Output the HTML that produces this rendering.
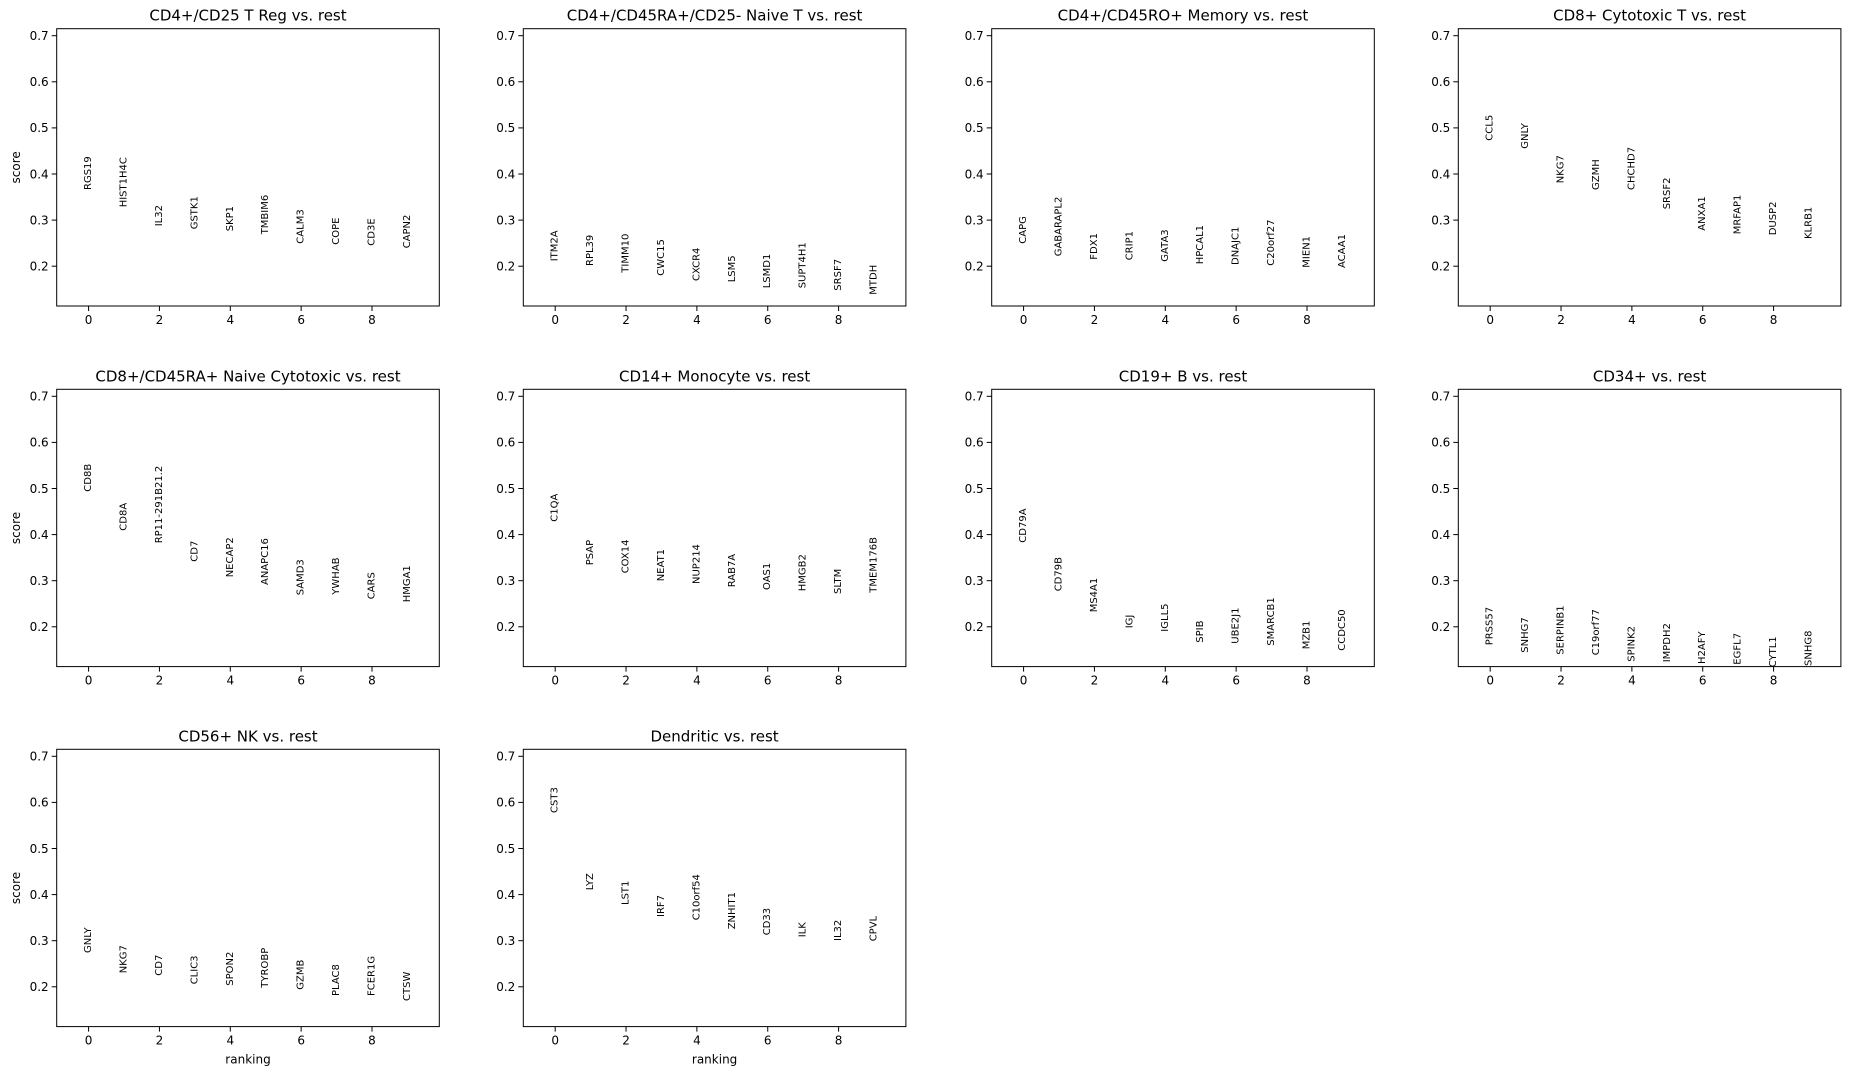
<!DOCTYPE html>
<html><head><meta charset="utf-8"><style>
html,body{margin:0;padding:0;background:#fff;}
svg{display:block;font-family:"DejaVu Sans","Liberation Sans",sans-serif;}
</style></head><body>
<svg id="s" width="1850" height="1075" xmlns="http://www.w3.org/2000/svg"></svg>
<script>
const lefts=[56.7,523.3,991.7,1458.3], tops=[28.7,389.3,749.3], W=382.6, H=277.3;
const P=[
["CD4+/CD25 T Reg vs. rest",[["RGS19",190],["HIST1H4C",207.3],["IL32",226.3],["GSTK1",229.3],["SKP1",231.3],["TMBIM6",234.3],["CALM3",243.7],["COPE",244.7],["CD3E",245.7],["CAPN2",248.3]]],
["CD4+/CD45RA+/CD25- Naive T vs. rest",[["ITM2A",261.3],["RPL39",266],["TIMM10",272.7],["CWC15",275.7],["CXCR4",281],["LSM5",282.3],["LSMD1",288.3],["SUPT4H1",288.3],["SRSF7",290.7],["MTDH",294.7]]],
["CD4+/CD45RO+ Memory vs. rest",[["CAPG",243.7],["GABARAPL2",256.3],["FDX1",259.7],["CRIP1",260.3],["GATA3",261.7],["HPCAL1",264.3],["DNAJC1",265],["C20orf27",265.7],["MIEN1",267.7],["ACAA1",268]]],
["CD8+ Cytotoxic T vs. rest",[["CCL5",140.7],["GNLY",148.7],["NKG7",183.3],["GZMH",190],["CHCHD7",190],["SRSF2",209.3],["ANXA1",230.7],["MRFAP1",234.3],["DUSP2",235.3],["KLRB1",239]]],
["CD8+/CD45RA+ Naive Cytotoxic vs. rest",[["CD8B",491.7],["CD8A",530.7],["RP11-291B21.2",543.3],["CD7",561.7],["NECAP2",577.3],["ANAPC16",585],["SAMD3",595.3],["YWHAB",594.7],["CARS",599.3],["HMGA1",602.3]]],
["CD14+ Monocyte vs. rest",[["C1QA",521.7],["PSAP",565.3],["COX14",573.3],["NEAT1",581.3],["NUP214",584],["RAB7A",587.3],["OAS1",590],["HMGB2",591.3],["SLTM",594],["TMEM176B",592.7]]],
["CD19+ B vs. rest",[["CD79A",542.7],["CD79B",591.3],["MS4A1",612.3],["IGJ",628.3],["IGLL5",631.7],["SPIB",642.7],["UBE2J1",643.7],["SMARCB1",645.7],["MZB1",649.3],["CCDC50",650.7]]],
["CD34+ vs. rest",[["PRSS57",645.3],["SNHG7",652.7],["SERPINB1",654.7],["C19orf77",655.3],["SPINK2",661.7],["IMPDH2",662.3],["H2AFY",664],["EGFL7",664.7],["CYTL1",667.3],["SNHG8",666]]],
["CD56+ NK vs. rest",[["GNLY",953],["NKG7",973.3],["CD7",975.7],["CLIC3",984.3],["SPON2",985.7],["TYROBP",987.7],["GZMB",989.7],["PLAC8",996],["FCER1G",996],["CTSW",1001]]],
["Dendritic vs. rest",[["CST3",813],["LYZ",890.3],["LST1",905],["IRF7",917],["C10orf54",920.3],["ZNHIT1",929.3],["CD33",935.3],["ILK",937.3],["IL32",941],["CPVL",941.3]]]
];
let o='';
P.forEach((p,i)=>{
  const r=Math.floor(i/4), c=i%4, L=lefts[c], T=tops[r];
  const xs=v=>L+(v+0.9)/10.8*W;
  o+=`<text x="${L+W/2}" y="${T-8}" font-size="15" text-anchor="middle" fill="#000">${p[0]}</text>`;
  for(let k=0;k<6;k++){const y=T+7+k*46.1;const lab=(0.7-k*0.1).toFixed(1);
    o+=`<line x1="${L-5}" y1="${y}" x2="${L}" y2="${y}" stroke="#000" stroke-width="1"/>`;
    o+=`<text x="${L-8}" y="${y+4.3}" font-size="12" text-anchor="end" fill="#000">${lab}</text>`;}
  for(let v=0;v<=8;v+=2){const x=xs(v);
    o+=`<line x1="${x}" y1="${T+H}" x2="${x}" y2="${T+H+5}" stroke="#000" stroke-width="1"/>`;
    o+=`<text x="${x}" y="${T+H+18}" font-size="12" text-anchor="middle" fill="#000">${v}</text>`;}
  p[1].forEach((g,j)=>{const x=xs(j);
    o+=`<text transform="translate(${x},${g[1]}) rotate(-90)" font-size="10" dominant-baseline="central" fill="#000">${g[0]}</text>`;});
  o+=`<rect x="${L}" y="${T}" width="${W}" height="${H}" fill="none" stroke="#000" stroke-width="1"/>`;
  if(c==0) o+=`<text transform="translate(16,${T+H/2}) rotate(-90)" font-size="12" text-anchor="middle" dominant-baseline="central" fill="#000">score</text>`;
  if(r==2) o+=`<text x="${L+W/2}" y="${T+H+37}" font-size="12" text-anchor="middle" fill="#000">ranking</text>`;
});
document.getElementById('s').innerHTML=o;
</script>
</body></html>
